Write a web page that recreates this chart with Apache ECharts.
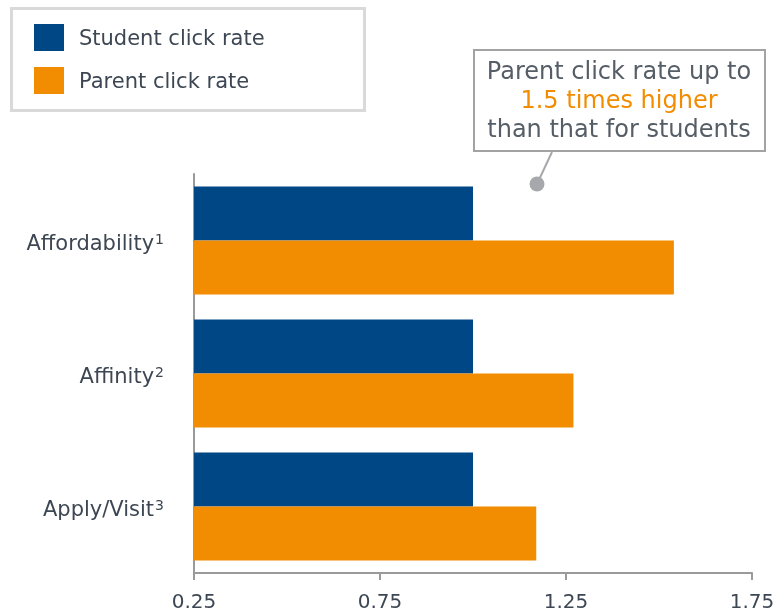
<!DOCTYPE html>
<html><head><meta charset="utf-8">
<script src="https://cdn.jsdelivr.net/npm/echarts@6/dist/echarts.min.js"></script>
<style>html,body{margin:0;padding:0;background:#fff}#c{width:776px;height:613px}</style>
</head><body><div id="c"></div>
<script>
const categories = ['Affordability', 'Affinity', 'Apply/Visit'];
const footnotes = ['1', '2', '3'];
const studentRate = [1.00, 1.00, 1.00];
const parentRate = [1.54, 1.27, 1.17];
const seriesNames = ['Student click rate', 'Parent click rate'];
const axisMin = 0.25, axisMax = 1.75, axisStep = 0.5;
const calloutLines = ['Parent click rate up to', '1.5 times higher', 'than that for students'];

const TXT = '#3d4753';
const FONT = '"DejaVu Sans", Verdana, sans-serif';
const BLUE = '#004785';
const ORANGE = '#f28c00';

const chart = echarts.init(document.getElementById('c'));
chart.setOption({
  animation: false,
  backgroundColor: '#fff',
  textStyle: { fontFamily: FONT, color: TXT },
  grid: { left: 194, right: 24, top: 174, bottom: 40, containLabel: false, outerBoundsMode: 'none' },
  legend: {
    orient: 'vertical', left: 29, top: 19,
    itemWidth: 30, itemHeight: 27, itemGap: 16,
    icon: 'rect',
    formatter: n => '{t|' + n + '}',
    textStyle: {
      fontSize: 21, color: TXT, fontFamily: FONT,
      rich: { t: { fontSize: 21, color: TXT, fontFamily: FONT, padding: [5, 0, 0, 10] } }
    },
    data: seriesNames
  },
  xAxis: {
    type: 'value', min: axisMin, max: axisMax, interval: axisStep,
    axisLine: { show: true, lineStyle: { color: '#9a9a9a', width: 2 } },
    axisTick: { show: true, length: 7, lineStyle: { color: '#9a9a9a', width: 2 } },
    splitLine: { show: false },
    axisLabel: { fontSize: 20, color: TXT, fontFamily: FONT, margin: 20, formatter: v => v.toFixed(2) }
  },
  yAxis: {
    type: 'category', inverse: true, data: categories,
    axisLine: { show: true, lineStyle: { color: '#9a9a9a', width: 2 } },
    axisTick: { show: false },
    axisLabel: {
      margin: 30, fontFamily: FONT, padding: [8, 0, 0, 0],
      formatter: (v, i) => '{n|' + v + '}{s|' + footnotes[i] + '}',
      rich: {
        n: { fontSize: 21, color: TXT, fontFamily: FONT },
        s: { fontSize: 14, color: TXT, fontFamily: FONT, verticalAlign: 'top', padding: [0, 0, 8, 1] }
      }
    }
  },
  series: [
    { name: seriesNames[0], type: 'bar', data: studentRate, barWidth: 54, barGap: '0%',
      itemStyle: { color: BLUE } },
    { name: seriesNames[1], type: 'bar', data: parentRate, barWidth: 54, barGap: '0%',
      itemStyle: { color: ORANGE } }
  ],
  graphic: [
    { type: 'rect', shape: { x: 11.5, y: 8.5, width: 353, height: 102 },
      style: { fill: 'none', stroke: '#d9d9d9', lineWidth: 3 }, z: 0 },
    { type: 'rect', shape: { x: 474, y: 50, width: 291, height: 101 },
      style: { fill: '#fff', stroke: '#a3a3a3', lineWidth: 2 } },
    { type: 'line', shape: { x1: 552, y1: 152, x2: 537, y2: 184 },
      style: { stroke: '#a6a8ab', lineWidth: 2 } },
    { type: 'circle', shape: { cx: 537, cy: 184, r: 7.5 }, style: { fill: '#a6a8ab' } },
    { type: 'text', x: 619, y: 73, style: { text: calloutLines[0], fill: '#555d66', font: '24px ' + FONT, align: 'center', verticalAlign: 'middle' } },
    { type: 'text', x: 619, y: 102, style: { text: calloutLines[1], fill: ORANGE, font: '24px ' + FONT, align: 'center', verticalAlign: 'middle' } },
    { type: 'text', x: 619, y: 131, style: { text: calloutLines[2], fill: '#555d66', font: '24px ' + FONT, align: 'center', verticalAlign: 'middle' } }
  ]
});
</script></body></html>
